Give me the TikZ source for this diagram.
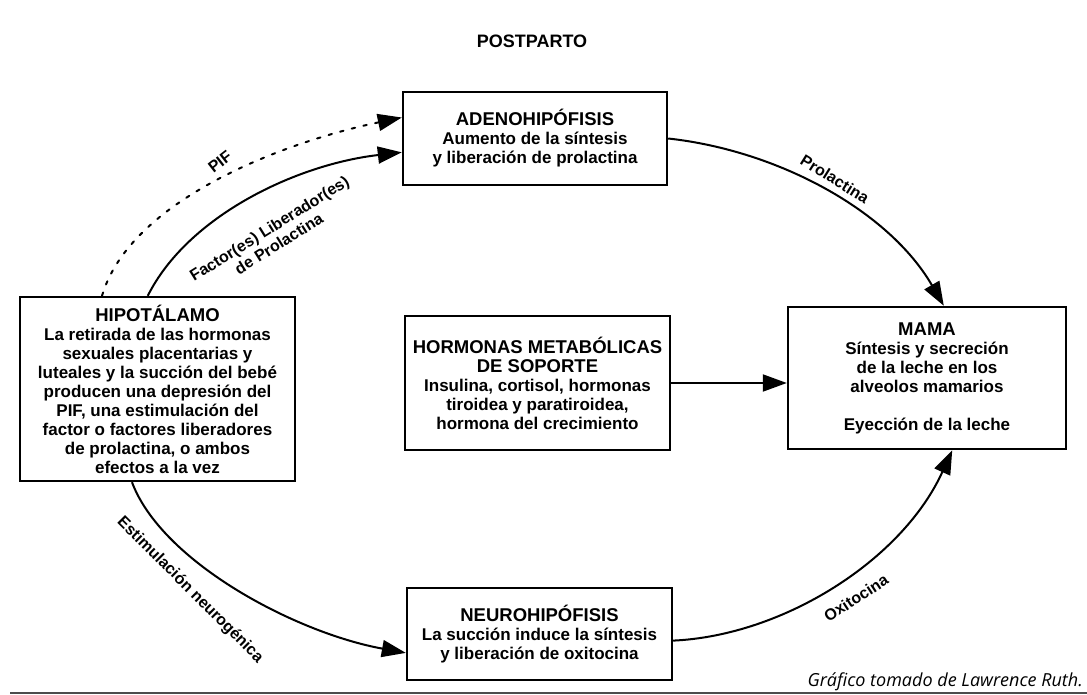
\documentclass[tikz,border=0pt]{standalone}
\usepackage{fontspec}
\setmainfont{Liberation Sans}
\newfontfamily\footfont{Open Sans}
\usetikzlibrary{arrows.meta,calc}
\newcommand{\bodyfnt}{\fontsize{17}{19}\selectfont\bfseries}
\newcommand{\headfnt}{\fontsize{18.5}{19}\selectfont\bfseries}
\newcommand{\labfnt}{\fontsize{16}{18}\selectfont\bfseries}
\tikzset{
  box/.style={draw, line width=2.4pt, align=center, inner sep=0pt, font=\bodyfnt},
  conn/.style={line width=2pt, -{Triangle[length=24pt,width=17pt]}},
  pifline/.style={conn, dash pattern=on 3.5pt off 8.5pt, line cap=round},
  lab/.style={font=\labfnt, inner sep=0pt, align=center},
}
\begin{document}
\begin{tikzpicture}[x=1pt,y=-1pt]
\fill[white] (0,0) rectangle (1087,695);
\useasboundingbox (0,0) rectangle (1087,695);

\node[font=\fontsize{18}{20}\selectfont\bfseries] (title) at (532,41) {POSTPARTO};

\node[box, minimum width=275, minimum height=184] (hip) at (157.5,389)
  {{\headfnt HIPOTÁLAMO}\\La retirada de las hormonas\\sexuales placentarias y\\luteales y la succión del bebé\\producen una depresión del\\PIF, una estimulación del\\factor o factores liberadores\\de prolactina, o ambos\\efectos a la vez};
\node[box, minimum width=264, minimum height=93] (adeno) at (535,138.5)
  {{\headfnt ADENOHIPÓFISIS}\\Aumento de la síntesis\\y liberación de prolactina};
\node[box, minimum width=265, minimum height=134] (horm) at (537.5,383)
  {{\headfnt HORMONAS METABÓLICAS}\\{\headfnt DE SOPORTE}\\Insulina, cortisol, hormonas\\tiroidea y paratiroidea,\\hormona del crecimiento};
\node[box, minimum width=278, minimum height=142] (mama) at (927,378)
  {{\headfnt MAMA}\\Síntesis y secreción\\de la leche en los\\alveolos mamarios\\[19pt]Eyección de la leche};
\node[box, minimum width=265, minimum height=92] (neuro) at (539.5,634)
  {{\headfnt NEUROHIPÓFISIS}\\La succión induce la síntesis\\y liberación de oxitocina};

% connectors
\draw[pifline] ($(hip.north west)!0.30!(hip.north east)$)
  .. controls +(28,-95) and +(-120,25) .. ($(adeno.north west)!0.28!(adeno.south west)$);
\draw[conn] ($(hip.north west)!0.465!(hip.north east)$)
  .. controls +(40,-80) and +(-105,12) .. ($(adeno.north west)!0.645!(adeno.south west)$);
\draw[conn] (adeno.east)
  .. controls +(110,12) and +(-55,-95) .. ($(mama.north west)!0.56!(mama.north east)$);
\draw[conn] (horm.east) -- (horm.east -| mama.west);
\draw[conn] ($(hip.south west)!0.408!(hip.south east)$)
  .. controls +(30,80) and +(-110,-20) .. ($(neuro.north west)!0.70!(neuro.south west)$);
\draw[conn] ($(neuro.north east)!0.57!(neuro.south east)$)
  .. controls +(110,-5) and +(-50,110) .. ($(mama.south west)!0.59!(mama.south east)$);

% labels
\node[lab, rotate=38] (lpif) at (220,162) {PIF};
\node[lab, rotate=32] (lfac) at (274,236) {Factor(es) Liberador(es)\\de Prolactina};
\node[lab, rotate=-32] (lprl) at (835,179) {Prolactina};
\node[lab, rotate=-45] (lneu) at (190,590) {Estimulación neurogénica};
\node[lab, rotate=33] (loxi) at (856,598) {Oxitocina};

\node[anchor=base east, inner sep=0pt, font=\footfont\itshape\fontsize{18}{20}\selectfont] (foot) at (1083,686) {Gráfico tomado de Lawrence Ruth.};

\draw[line width=2pt, black!70] (10,693) -- (1087,693);
\end{tikzpicture}
\end{document}
